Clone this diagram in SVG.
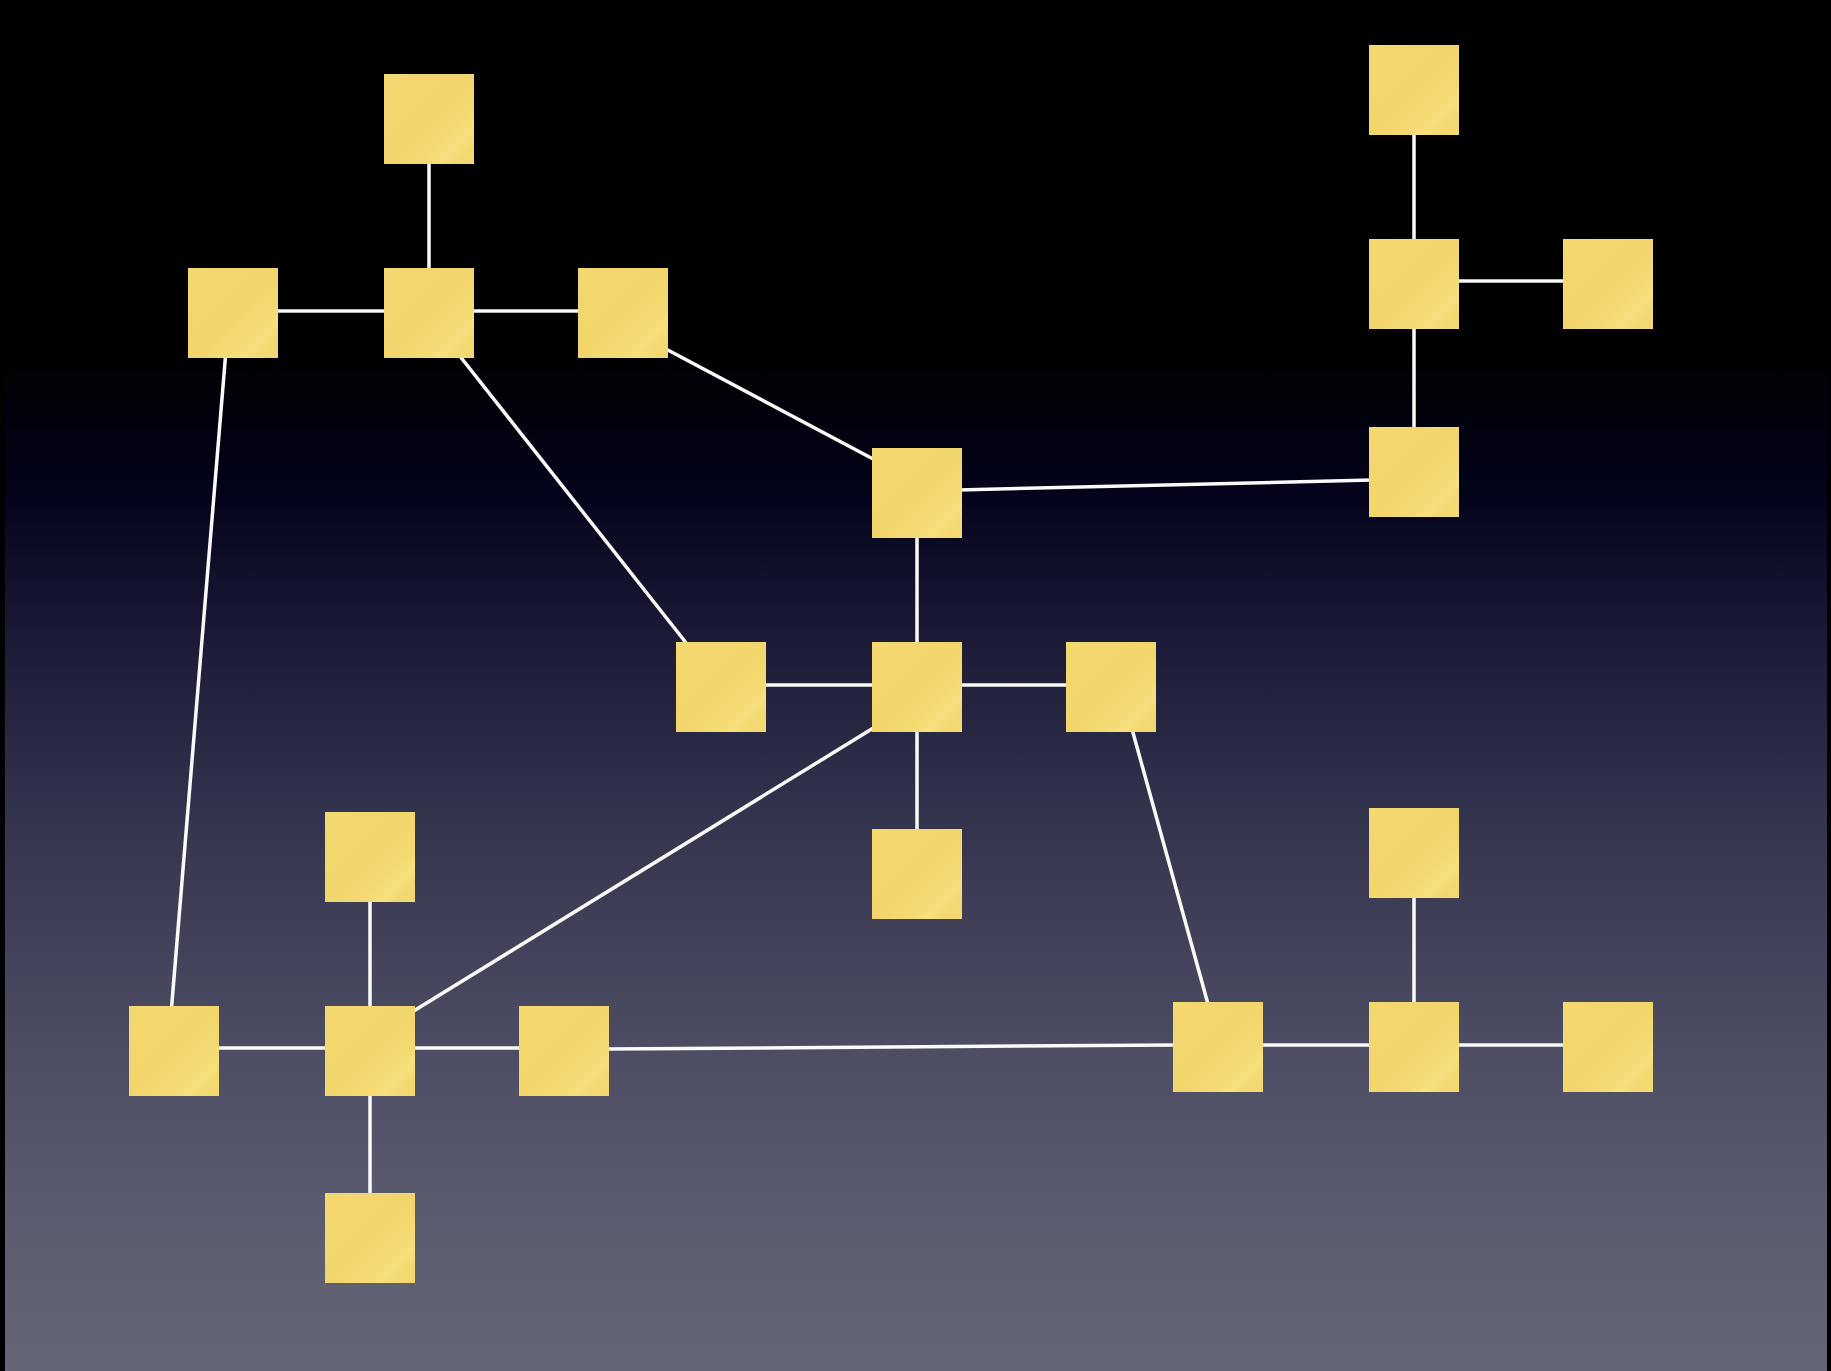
<svg xmlns="http://www.w3.org/2000/svg" width="1831" height="1371" viewBox="0 0 1831 1371">
  <defs>
    <linearGradient id="bg" x1="0" y1="0" x2="0" y2="1371" gradientUnits="userSpaceOnUse">
      <stop offset="0" stop-color="#000000"/>
      <stop offset="0.25" stop-color="#000000"/>
      <stop offset="0.36" stop-color="#03031b"/>
      <stop offset="0.47" stop-color="#1c1c38"/>
      <stop offset="0.63" stop-color="#393a52"/>
      <stop offset="0.77" stop-color="#4d4e64"/>
      <stop offset="0.88" stop-color="#5a5b6e"/>
      <stop offset="1" stop-color="#646576"/>
    </linearGradient>
    <linearGradient id="note" x1="0" y1="0" x2="1" y2="1">
      <stop offset="0" stop-color="#f4d870"/>
      <stop offset="0.5" stop-color="#f2d56b"/>
      <stop offset="0.72" stop-color="#f5da74"/>
      <stop offset="0.8" stop-color="#f8e07e"/>
      <stop offset="0.88" stop-color="#f4d972"/>
      <stop offset="1" stop-color="#f3d870"/>
    </linearGradient>
  </defs>
  <style>
    .node { fill: url(#note); }
    .edge { stroke: #fafafa; stroke-width: 3.5; fill: none; }
  </style>
  <rect x="0" y="0" width="1831" height="1371" fill="#000"/>
  <rect x="5" y="0" width="1822" height="1371" fill="url(#bg)"/>

  <g id="connectors">
    <line class="edge" x1="429" y1="160" x2="429" y2="270"/>
    <line class="edge" x1="275" y1="311" x2="580" y2="311"/>
    <line class="edge" x1="664" y1="348" x2="875" y2="460"/>
    <line class="edge" x1="459" y1="355" x2="687" y2="644"/>
    <line class="edge" x1="225.6" y1="355" x2="171.5" y2="1008"/>
    <line class="edge" x1="1414" y1="130" x2="1414" y2="430"/>
    <line class="edge" x1="1455" y1="281" x2="1565" y2="281"/>
    <line class="edge" x1="958" y1="490" x2="1372" y2="480"/>
    <line class="edge" x1="917" y1="535" x2="917" y2="832"/>
    <line class="edge" x1="763" y1="685" x2="1068" y2="685"/>
    <line class="edge" x1="875" y1="727" x2="412" y2="1012"/>
    <line class="edge" x1="1132" y1="729" x2="1208" y2="1004"/>
    <line class="edge" x1="370" y1="900" x2="370" y2="1196"/>
    <line class="edge" x1="215" y1="1048" x2="521" y2="1048"/>
    <line class="edge" x1="606" y1="1049" x2="1176" y2="1045"/>
    <line class="edge" x1="1260" y1="1045" x2="1565" y2="1045"/>
    <line class="edge" x1="1414" y1="895" x2="1414" y2="1004"/>
  </g>

  <g id="n1"><rect class="node" x="384" y="74" width="90" height="90"/></g>
  <g id="n2"><rect class="node" x="188" y="268" width="90" height="90"/></g>
  <g id="n3"><rect class="node" x="384" y="268" width="90" height="90"/></g>
  <g id="n4"><rect class="node" x="578" y="268" width="90" height="90"/></g>
  <g id="n5"><rect class="node" x="1369" y="45" width="90" height="90"/></g>
  <g id="n6"><rect class="node" x="1369" y="239" width="90" height="90"/></g>
  <g id="n7"><rect class="node" x="1563" y="239" width="90" height="90"/></g>
  <g id="n8"><rect class="node" x="1369" y="427" width="90" height="90"/></g>
  <g id="n9"><rect class="node" x="872" y="448" width="90" height="90"/></g>
  <g id="n10"><rect class="node" x="676" y="642" width="90" height="90"/></g>
  <g id="n11"><rect class="node" x="872" y="642" width="90" height="90"/></g>
  <g id="n12"><rect class="node" x="1066" y="642" width="90" height="90"/></g>
  <g id="n13"><rect class="node" x="872" y="829" width="90" height="90"/></g>
  <g id="n14"><rect class="node" x="325" y="812" width="90" height="90"/></g>
  <g id="n15"><rect class="node" x="129" y="1006" width="90" height="90"/></g>
  <g id="n16"><rect class="node" x="325" y="1006" width="90" height="90"/></g>
  <g id="n17"><rect class="node" x="519" y="1006" width="90" height="90"/></g>
  <g id="n18"><rect class="node" x="325" y="1193" width="90" height="90"/></g>
  <g id="n19"><rect class="node" x="1369" y="808" width="90" height="90"/></g>
  <g id="n20"><rect class="node" x="1173" y="1002" width="90" height="90"/></g>
  <g id="n21"><rect class="node" x="1369" y="1002" width="90" height="90"/></g>
  <g id="n22"><rect class="node" x="1563" y="1002" width="90" height="90"/></g>
</svg>
